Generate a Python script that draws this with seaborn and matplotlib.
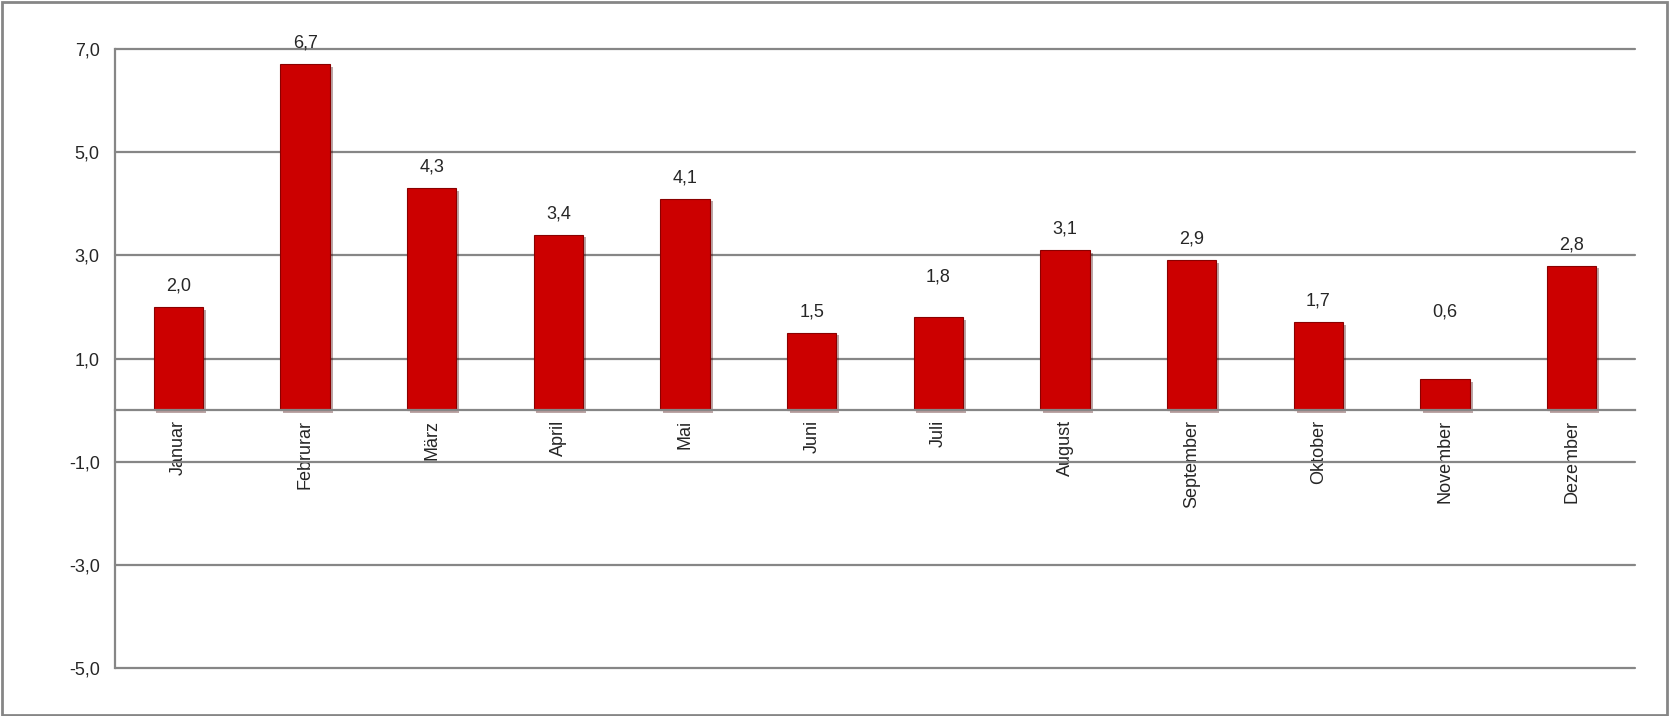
import matplotlib
matplotlib.use("Agg")
import matplotlib.pyplot as plt
import matplotlib.patheffects as pe
from matplotlib.patches import Rectangle
import seaborn as sns
import pandas as pd

# data
months = ["Januar", "Februrar", "März", "April", "Mai", "Juni", "Juli",
          "August", "September", "Oktober", "November", "Dezember"]
values = [2.0, 6.7, 4.3, 3.4, 4.1, 1.5, 1.8, 3.1, 2.9, 1.7, 0.6, 2.8]
y_ticks = [-5, -3, -1, 1, 3, 5, 7]
# extra lift of some value labels (points), as in the original
label_lift = [0, 0, 0, 0, 0, 0, 14, 0, 0, 0, 33, 0]

df = pd.DataFrame({"Monat": months, "Wert": values})

sns.set_style("white")
plt.rcParams["font.family"] = ["Liberation Sans", "DejaVu Sans"]

grey = "#868686"
red = "#CC0000"

fig = plt.figure(figsize=(16.7, 7.16), dpi=100)
ax = fig.add_axes([0.0689, 0.067, 0.9102, 0.8646])

sns.barplot(data=df, x="Monat", y="Wert", color=red, width=0.39,
            edgecolor="#8a0000", linewidth=0.8, saturation=1, ax=ax, zorder=3)

# soft drop shadow like the Excel bevel bars
for bar in ax.patches:
    bar.set_path_effects([pe.SimplePatchShadow(offset=(2, -2), alpha=0.35), pe.Normal()])

ax.set_xlim(-0.5, len(months) - 0.5)
ax.set_ylim(-5, 7)
ax.set_yticks(y_ticks)
ax.set_yticklabels([f"{t:.1f}".replace(".", ",") for t in y_ticks], fontsize=13)
ax.yaxis.grid(True, color=grey, linewidth=1.6, zorder=0)
ax.set_axisbelow(True)

for side in ["top", "right"]:
    ax.spines[side].set_visible(False)
ax.spines["left"].set_color(grey)
ax.spines["left"].set_linewidth(1.6)
ax.spines["bottom"].set_position(("data", 0))
ax.spines["bottom"].set_color(grey)
ax.spines["bottom"].set_linewidth(1.6)
ax.spines["bottom"].set_zorder(4)

ax.tick_params(axis="y", direction="out", length=5, width=1.6, color=grey, pad=6)
ax.set_xticks(range(len(months)))
ax.set_xticklabels(months, rotation=90, fontsize=13, va="top")
ax.tick_params(axis="x", which="major", length=0, pad=7)
ax.set_xticks([i - 0.5 for i in range(len(months) + 1)], minor=True)
ax.tick_params(axis="x", which="minor", direction="out", length=5, width=1.6, color=grey)
ax.set_xlabel("")
ax.set_ylabel("")

for gl in ax.get_ygridlines():
    gl.set_clip_on(False)

for i, v in enumerate(values):
    ax.annotate(f"{v:.1f}".replace(".", ","), (i, v), xytext=(0, 9 + label_lift[i]),
                textcoords="offset points", ha="center", va="bottom", fontsize=13)

# outer chart frame
fig.patches.append(Rectangle((0.001, 0.002), 0.997, 0.995, transform=fig.transFigure,
                             fill=False, edgecolor=grey, linewidth=2))

fig.savefig("out.png", dpi=100)
